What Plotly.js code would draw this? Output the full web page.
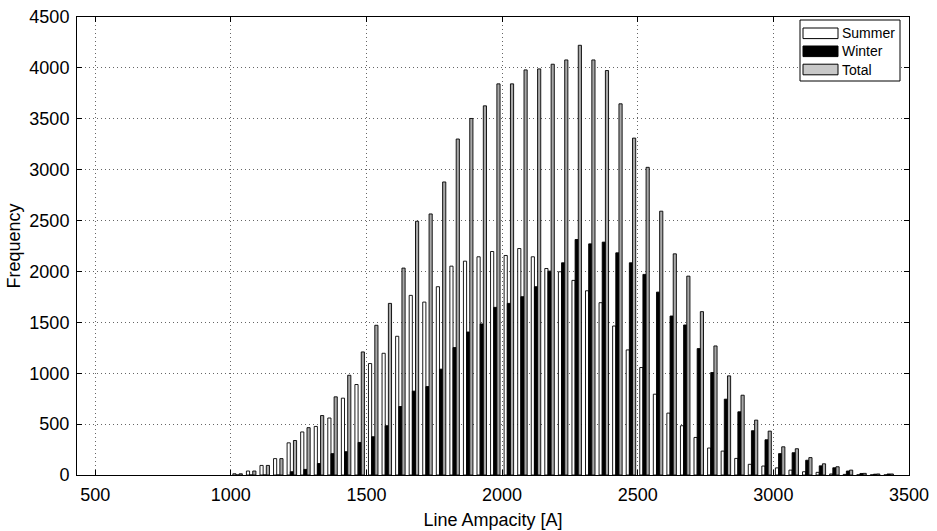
<!DOCTYPE html>
<html>
<head>
<meta charset="utf-8">
<script src="https://cdn.plot.ly/plotly-3.0.1.min.js"></script>
<style>html,body{margin:0;padding:0;background:#fff;}#chart{width:937px;height:531px;}</style>
</head>
<body>
<div id="chart"></div>
<script>
// Bin centres (Line Ampacity [A])
const binCenters = [1025,1075,1125,1175,1225,1275,1325,1375,1425,1475,
  1525,1575,1625,1675,1725,1775,1825,1875,1925,1975,
  2025,2075,2125,2175,2225,2275,2325,2375,2425,2475,
  2525,2575,2625,2675,2725,2775,2825,2875,2925,2975,
  3025,3075,3125,3175,3225,3275,3325,3375,3425];

const summer = [12,39,94,161,316,423,477,560,755,889,
  1095,1196,1363,1765,1699,1850,2052,2101,2144,2196,
  2157,2225,2144,2029,1997,1912,1810,1693,1464,1229,
  1056,794,608,484,369,265,235,163,105,88,
  70,48,32,26,10,6,2,2,1];

const winter = [0,0,0,0,32,55,113,210,229,320,
  376,484,673,824,869,1040,1252,1405,1484,1647,
  1686,1752,1850,2003,2085,2314,2271,2288,2183,2085,
  1971,1797,1562,1474,1242,1007,745,621,435,346,
  210,219,145,90,71,39,15,8,10];

const total = [12,39,94,161,339,465,584,768,980,1209,
  1471,1686,2033,2493,2565,2879,3301,3503,3627,3843,
  3843,3980,3990,4036,4078,4222,4078,3974,3647,3310,
  3023,2592,2173,1954,1605,1268,974,784,539,431,
  277,258,171,110,81,48,16,10,10];

const seriesNames = ['Summer','Winter','Total'];
const seriesFill = ['#ffffff','#000000','#a8a8a8'];
const legendFill = ['#ffffff','#000000','#c8c8c8'];

const xTicks = [500,1000,1500,2000,2500,3000,3500];
const yTicks = [0,500,1000,1500,2000,2500,3000,3500,4000,4500];

const W = 937, H = 531;
const M = {l:77, r:28, t:17, b:56};
const PW = W - M.l - M.r, PH = H - M.t - M.b;
const fx = px => (px - M.l) / PW;
const fy = py => (H - M.b - py) / PH;

const edge = {color:'#000', width:0.9};
const data = [summer, winter, total];
const traces = data.map((d,i) => ({
  type:'bar', name:seriesNames[i], x:binCenters, y:d,
  marker:{color:seriesFill[i], line:edge}, showlegend:false
}));

const font = {family:'"Liberation Sans", Arial, Helvetica, sans-serif', color:'#000'};
const axisCommon = {
  showline:true, linecolor:'#000', linewidth:1, mirror:'ticks',
  ticks:'inside', ticklen:5, tickcolor:'#000',
  showgrid:true, gridcolor:'#666', griddash:'1px,3px', gridwidth:1,
  zeroline:false, tickfont:{...font, size:18}
};

// custom MATLAB-style legend box
const shapes = [{type:'rect', xref:'paper', yref:'paper', x0:fx(800), x1:fx(900), y0:fy(81), y1:fy(20),
  line:{color:'#000', width:1}, fillcolor:'#fff', layer:'above'}];
const annotations = [];
const rowY = [33.3, 51.3, 69.5];
seriesNames.forEach((n,i) => {
  shapes.push({type:'rect', xref:'paper', yref:'paper', x0:fx(803), x1:fx(838),
    y0:fy(rowY[i]+5.3), y1:fy(rowY[i]-5.3), line:{color:'#000', width:1}, fillcolor:legendFill[i], layer:'above'});
  annotations.push({xref:'paper', yref:'paper', x:fx(840), y:fy(rowY[i]), xanchor:'left', yanchor:'middle',
    text:n, showarrow:false, font:{...font, size:14}});
});

const layout = {
  width:W, height:H,
  margin:M,
  paper_bgcolor:'#fff', plot_bgcolor:'#fff',
  font:font,
  barmode:'group', bargap:0.3, bargroupgap:0,
  showlegend:false,
  shapes:shapes, annotations:annotations,
  xaxis:{...axisCommon, range:[433,3500], tickvals:xTicks, ticktext:xTicks.map(String),
    ticklabelstandoff:3,
    title:{text:'Line Ampacity [A]', font:{...font, size:18}, standoff:9}},
  yaxis:{...axisCommon, range:[0,4500], tickvals:yTicks, ticktext:yTicks.map(String),
    ticklabelstandoff:3,
    title:{text:'Frequency', font:{...font, size:18}, standoff:4}}
};

Plotly.newPlot('chart', traces, layout, {displayModeBar:false, staticPlot:true});
</script>
</body>
</html>
